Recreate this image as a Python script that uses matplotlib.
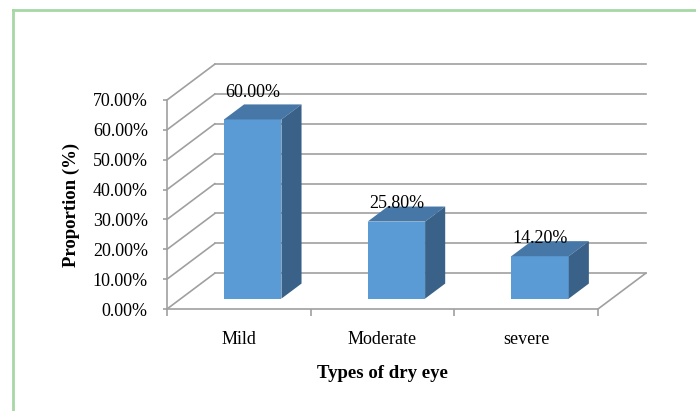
import matplotlib.pyplot as plt
from matplotlib.patches import Polygon
from matplotlib.lines import Line2D

plt.rcParams['font.family'] = ['Liberation Serif', 'DejaVu Serif']

# data
categories = ['Mild', 'Moderate', 'severe']
proportion = [60.0, 25.8, 14.2]
value_labels = ['60.00%', '25.80%', '14.20%']
yticks = [0, 10, 20, 30, 40, 50, 60, 70]

# fake 3d depth, in data units
depth_x = 0.333
depth_y = 12.0
d0, d1 = 0.29, 0.71
bar_w = 0.4
grid_c = '#a0a0a0'
label_off = [27, 18, 18]  # px above front top edge

fig = plt.figure(figsize=(6.96, 4.11), dpi=100)
# front plane: x 167..598 px, y 100..309 px
ax = fig.add_axes([167 / 696, (411 - 309) / 411, (598 - 167) / 696, (309 - 100) / 411])
ax.set_xlim(0, 3)
ax.set_ylim(0, 70)

# back wall + left wall grid
for v in yticks:
    ax.plot([0, depth_x], [v, v + depth_y], color=grid_c, lw=1.2, clip_on=False, zorder=1)
    ax.plot([depth_x, 3 + depth_x], [v + depth_y, v + depth_y], color=grid_c, lw=1.2,
            clip_on=False, zorder=1)
# floor right edge
ax.plot([3, 3 + depth_x], [0, depth_y], color=grid_c, lw=1.2, clip_on=False, zorder=1)

# bars
xs = [i + 0.5 for i in range(len(categories))]
s0, s1 = depth_x * d0, depth_x * d1
b0, b1 = depth_y * d0, depth_y * d1
ax.bar([x + s0 for x in xs], proportion, width=bar_w, bottom=b0, color='#5b9bd5',
       clip_on=False, zorder=3)
for x, v, lab, off in zip(xs, proportion, value_labels, label_off):
    xl, xr = x - bar_w / 2, x + bar_w / 2
    top = [(xl + s0, v + b0), (xr + s0, v + b0), (xr + s1, v + b1), (xl + s1, v + b1)]
    side = [(xr + s0, b0), (xr + s1, b1), (xr + s1, v + b1), (xr + s0, v + b0)]
    ax.add_patch(Polygon(top, closed=True, facecolor='#4677a6', edgecolor='none',
                         clip_on=False, zorder=3))
    ax.add_patch(Polygon(side, closed=True, facecolor='#3a6187', edgecolor='none',
                         clip_on=False, zorder=3))
    ax.annotate(lab, (x + s0, v + b0), xytext=(0, off), textcoords='offset pixels',
                ha='center', va='center', fontsize=13, zorder=4, annotation_clip=False)

# axes
for sp in ['top', 'right']:
    ax.spines[sp].set_visible(False)
for sp in ['left', 'bottom']:
    ax.spines[sp].set_color(grid_c)
    ax.spines[sp].set_linewidth(1.2)
ax.set_yticks(yticks)
ax.set_yticklabels(['%.2f%%' % v for v in yticks], fontsize=13)
ax.set_xticks([0, 1, 2, 3])
ax.set_xticklabels([])
ax.set_xticks(xs, minor=True)
ax.set_xticklabels(categories, minor=True, fontsize=13)
ax.tick_params(axis='x', which='major', length=5, color=grid_c, width=1.2)
ax.tick_params(axis='x', which='minor', length=0, pad=16)
ax.tick_params(axis='y', length=3, color=grid_c, width=1.2, pad=10.8)

ax.set_xlabel('Types of dry eye', fontsize=13.5, fontweight='bold', labelpad=12)
ax.set_ylabel('Proportion (%)', fontsize=13.5, fontweight='bold', labelpad=9)

# green frame (top and left only visible)
frame_c = '#a6d8a6'
fig.add_artist(Line2D([13 / 696, 1], [1 - 10 / 411, 1 - 10 / 411], color=frame_c, lw=2,
                      transform=fig.transFigure))
fig.add_artist(Line2D([13 / 696, 13 / 696], [0, 1 - 10 / 411], color=frame_c, lw=2,
                      transform=fig.transFigure))

fig.savefig('out.png', dpi=100)
